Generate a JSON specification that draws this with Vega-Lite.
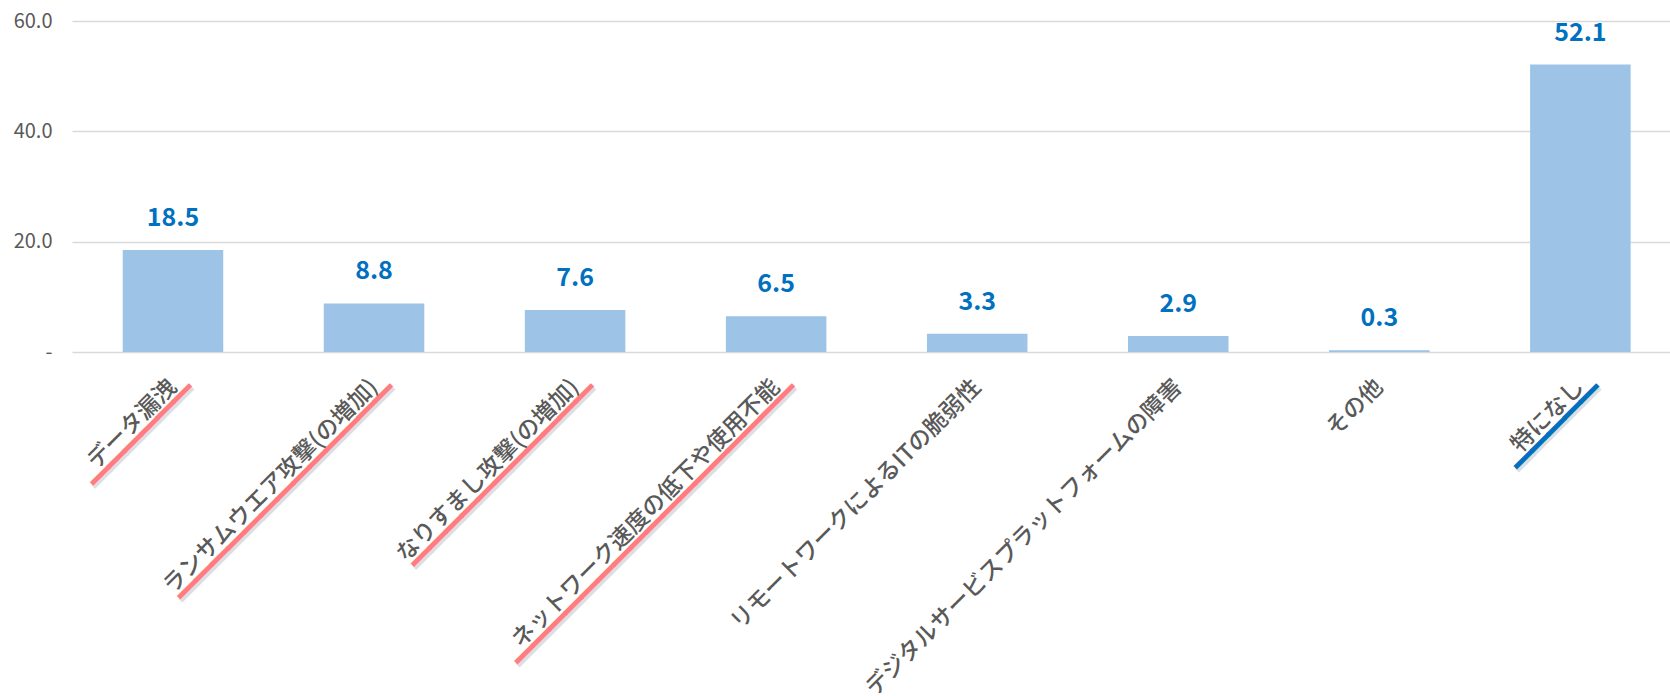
{
  "$schema": "https://vega.github.io/schema/vega-lite/v6.json",
  "width": 1598,
  "height": 331,
  "autosize": {"type": "none"},
  "padding": {"left": 72, "top": 21, "right": 0, "bottom": 344},
  "background": "white",
  "config": {"view": {"stroke": null}, "font": "Noto Sans CJK JP"},
  "data": {
    "values": [
      {"item": "データ漏洩", "value": 18.5, "group": "concern"},
      {"item": "ランサムウエア攻撃(の増加)", "value": 8.8, "group": "concern"},
      {"item": "なりすまし攻撃(の増加)", "value": 7.6, "group": "concern"},
      {"item": "ネットワーク速度の低下や使用不能", "value": 6.5, "group": "concern"},
      {"item": "リモートワークによるITの脆弱性", "value": 3.3, "group": "plain"},
      {"item": "デジタルサービスプラットフォームの障害", "value": 2.9, "group": "plain"},
      {"item": "その他", "value": 0.3, "group": "plain"},
      {"item": "特になし", "value": 52.1, "group": "nothing"}
    ]
  },
  "encoding": {
    "x": {
      "field": "item",
      "type": "nominal",
      "sort": null,
      "scale": {"paddingInner": 0.5, "paddingOuter": 0.224, "align": 0.563},
      "axis": {
        "title": null,
        "domain": false,
        "ticks": false,
        "labelAngle": -45,
        "labelAlign": "right",
        "labelBaseline": "middle",
        "labelPadding": 31,
        "labelFontSize": 23,
        "labelFontWeight": 500,
        "labelColor": "#595959",
        "labelFont": "Noto Sans CJK JP",
        "labelLimit": 0,
        "labelOverlap": false
      }
    }
  },
  "layer": [
    {
      "mark": {"type": "bar", "color": "#9DC3E6"},
      "encoding": {
        "y": {
          "field": "value",
          "type": "quantitative",
          "scale": {"domain": [0, 60], "nice": false},
          "axis": {
            "title": null,
            "domain": false,
            "ticks": false,
            "values": [0, 20, 40, 60],
            "labelExpr": "datum.value == 0 ? '-' : format(datum.value, '.1f')",
            "labelPadding": 20,
            "labelFontSize": 20,
            "labelColor": "#595959",
            "labelFont": "Noto Sans CJK JP",
            "gridColor": "#D9D9D9",
            "gridWidth": 1.5
          }
        }
      }
    },
    {
      "mark": {
        "type": "text",
        "fontSize": 25,
        "fontWeight": "bold",
        "color": "#0070C0",
        "baseline": "alphabetic",
        "dy": -24
      },
      "encoding": {
        "y": {"field": "value", "type": "quantitative"},
        "text": {"field": "value", "type": "quantitative", "format": ".1f"}
      }
    },
    {
      "transform": [
        {"filter": "datum.group != 'plain'"},
        {"calculate": "pad('', length(replace(datum.item, regexp('[()]', 'g'), '')) + 1, '━')", "as": "underline"}
      ],
      "mark": {
        "type": "text",
        "angle": 315,
        "align": "right",
        "baseline": "middle",
        "fontSize": 23,
        "font": "Noto Sans CJK JP",
        "yOffset": 31,
        "dx": 9.3,
        "dy": 19,
        "color": "#7F7F7F",
        "stroke": "#7F7F7F",
        "strokeWidth": 2,
        "opacity": 0.25
      },
      "encoding": {
        "y": {"datum": 0, "type": "quantitative"},
        "text": {"field": "underline", "type": "nominal"}
      }
    },
    {
      "transform": [
        {"filter": "datum.group != 'plain'"},
        {"calculate": "pad('', length(replace(datum.item, regexp('[()]', 'g'), '')) + 1, '━')", "as": "underline"}
      ],
      "mark": {
        "type": "text",
        "angle": 315,
        "align": "right",
        "baseline": "middle",
        "fontSize": 23,
        "font": "Noto Sans CJK JP",
        "yOffset": 31,
        "dx": 10,
        "dy": 15.5,
        "strokeWidth": 2
      },
      "encoding": {
        "y": {"datum": 0, "type": "quantitative"},
        "text": {"field": "underline", "type": "nominal"},
        "color": {
          "field": "group",
          "type": "nominal",
          "scale": {"domain": ["concern", "nothing"], "range": ["#FF7C80", "#0070C0"]},
          "legend": null
        },
        "stroke": {
          "field": "group",
          "type": "nominal",
          "scale": {"domain": ["concern", "nothing"], "range": ["#FF7C80", "#0070C0"]},
          "legend": null
        }
      }
    }
  ]
}
